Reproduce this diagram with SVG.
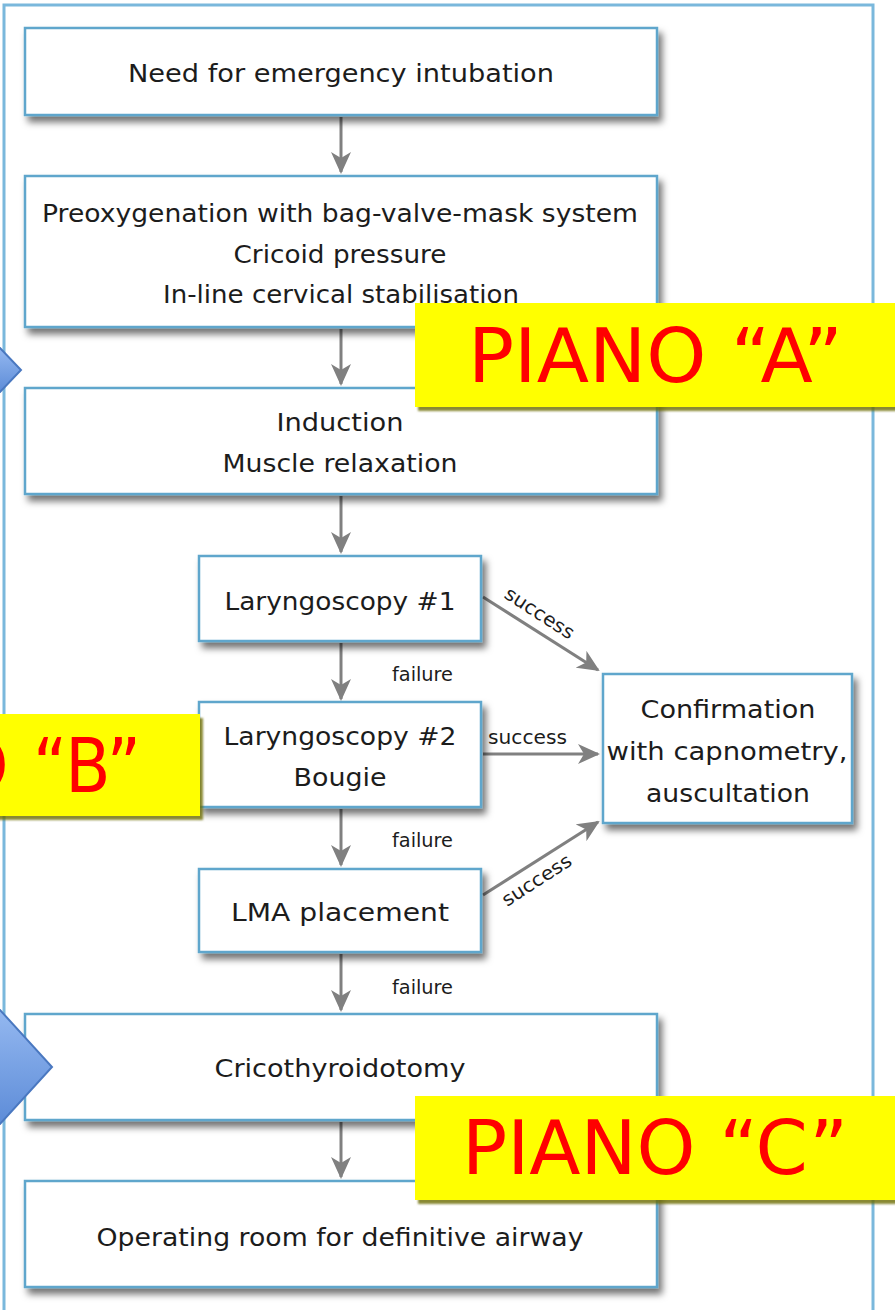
<svg xmlns="http://www.w3.org/2000/svg" width="895" height="1310" viewBox="0 0 895 1310">
<style>
.box{fill:#ffffff;stroke:#5fa6cc;stroke-width:2.5;filter:url(#sh)}
.t{font-family:"DejaVu Sans","Liberation Sans",sans-serif;font-size:25px;fill:#1c1c1c;text-anchor:middle}
.s{font-family:"DejaVu Sans","Liberation Sans",sans-serif;font-size:19px;fill:#1c1c1c}
.c{stroke:#808080;stroke-width:3;fill:none;marker-end:url(#ah)}
.lab{fill:#ffff00;filter:url(#ysh)}
.lt{font-family:"DejaVu Sans","Liberation Sans",sans-serif;font-size:74px;fill:#ff0000}
.chev{fill:url(#cg);stroke:#4a78c0;stroke-width:2}
</style>
<defs>
<filter id="sh" x="-10%" y="-10%" width="130%" height="140%">
<feDropShadow dx="4" dy="6" stdDeviation="3.5" flood-color="#000" flood-opacity="0.55"/>
</filter>
<filter id="ysh" x="-5%" y="-5%" width="115%" height="120%">
<feDropShadow dx="3" dy="4" stdDeviation="0.8" flood-color="#6b6b00" flood-opacity="0.8"/>
</filter>
<linearGradient id="cg" x1="0" y1="0" x2="0" y2="1">
<stop offset="0" stop-color="#94b8f0"/>
<stop offset="1" stop-color="#5d8cd8"/>
</linearGradient>
<marker id="ah" viewBox="0 0 22 20" refX="20" refY="10" markerWidth="22" markerHeight="20" markerUnits="userSpaceOnUse" orient="auto">
<path d="M0,0 L22,10 L0,20 L6,10 z" fill="#808080"/>
</marker>
</defs>
<rect x="4" y="5" width="869" height="1330" fill="#ffffff" stroke="#7ab8dc" stroke-width="3"/>
<g id="connectors">
<line class="c" x1="341" y1="117" x2="341" y2="172"/>
<line class="c" x1="341" y1="329" x2="341" y2="384"/>
<line class="c" x1="341" y1="496" x2="341" y2="552"/>
<line class="c" x1="341" y1="643" x2="341" y2="699"/>
<line class="c" x1="341" y1="809" x2="341" y2="865"/>
<line class="c" x1="341" y1="954" x2="341" y2="1010"/>
<line class="c" x1="341" y1="1122" x2="341" y2="1177"/>
<line class="c" x1="483" y1="597" x2="598" y2="670"/>
<line class="c" x1="483" y1="754" x2="598" y2="754"/>
<line class="c" x1="483" y1="895" x2="598" y2="822"/>
<text class="s" x="392" y="681" textLength="61" lengthAdjust="spacingAndGlyphs">failure</text>
<text class="s" x="392" y="847" textLength="61" lengthAdjust="spacingAndGlyphs">failure</text>
<text class="s" x="392" y="994" textLength="61" lengthAdjust="spacingAndGlyphs">failure</text>
<text class="s" x="488" y="744" textLength="79" lengthAdjust="spacingAndGlyphs">success</text>
<text class="s" transform="translate(503,597) rotate(33)" textLength="79" lengthAdjust="spacingAndGlyphs">success</text>
<text class="s" transform="translate(507,907) rotate(-33)" textLength="79" lengthAdjust="spacingAndGlyphs">success</text>
</g>
<g id="n1"><rect class="box" x="25" y="28" width="632" height="87"/>
<text class="t" x="341" y="82" textLength="426" lengthAdjust="spacingAndGlyphs">Need for emergency intubation</text></g>
<g id="n2"><rect class="box" x="25" y="176" width="632" height="151"/>
<text class="t" x="340" y="222" textLength="596" lengthAdjust="spacingAndGlyphs">Preoxygenation with bag-valve-mask system</text>
<text class="t" x="340" y="263" textLength="213" lengthAdjust="spacingAndGlyphs">Cricoid pressure</text>
<text class="t" x="341" y="303" textLength="356" lengthAdjust="spacingAndGlyphs">In-line cervical stabilisation</text></g>
<g id="n3"><rect class="box" x="25" y="388" width="632" height="106"/>
<text class="t" x="340" y="431" textLength="127" lengthAdjust="spacingAndGlyphs">Induction</text>
<text class="t" x="340" y="472" textLength="235" lengthAdjust="spacingAndGlyphs">Muscle relaxation</text></g>
<g id="n4"><rect class="box" x="199" y="556" width="282" height="85"/>
<text class="t" x="340" y="610" textLength="231" lengthAdjust="spacingAndGlyphs">Laryngoscopy #1</text></g>
<g id="n5"><rect class="box" x="199" y="702" width="282" height="105"/>
<text class="t" x="340" y="745" textLength="233" lengthAdjust="spacingAndGlyphs">Laryngoscopy #2</text>
<text class="t" x="340" y="786" textLength="93" lengthAdjust="spacingAndGlyphs">Bougie</text></g>
<g id="n6"><rect class="box" x="199" y="869" width="282" height="83"/>
<text class="t" x="340" y="921" textLength="218" lengthAdjust="spacingAndGlyphs">LMA placement</text></g>
<g id="n7"><rect class="box" x="603" y="674" width="249" height="149"/>
<text class="t" x="728" y="718" textLength="175" lengthAdjust="spacingAndGlyphs">Confirmation</text>
<text class="t" x="727" y="760" textLength="241" lengthAdjust="spacingAndGlyphs">with capnometry,</text>
<text class="t" x="728" y="802" textLength="164" lengthAdjust="spacingAndGlyphs">auscultation</text></g>
<g id="n8"><rect class="box" x="25" y="1014" width="632" height="106"/>
<text class="t" x="340" y="1077" textLength="251" lengthAdjust="spacingAndGlyphs">Cricothyroidotomy</text></g>
<g id="n9"><rect class="box" x="25" y="1181" width="632" height="106"/>
<text class="t" x="340" y="1246" textLength="487" lengthAdjust="spacingAndGlyphs">Operating room for definitive airway</text></g>
<g id="chevrons">
<polygon class="chev" points="-60,348 0,348 21,370 0,392 -60,392"/>
<polygon class="chev" points="-60,1010 0,1010 52,1067 0,1124 -60,1124"/>
</g>
<g id="labelA"><rect class="lab" x="415" y="303" width="500" height="104"/>
<text class="lt" x="468" y="382" textLength="375" lengthAdjust="spacingAndGlyphs">PIANO “A”</text></g>
<g id="labelB"><rect class="lab" x="-300" y="714" width="500" height="102"/>
<text class="lt" x="9" y="792" text-anchor="end" textLength="240" lengthAdjust="spacingAndGlyphs">PIANO</text>
<text class="lt" x="33" y="792" textLength="108" lengthAdjust="spacingAndGlyphs">“B”</text></g>
<g id="labelC"><rect class="lab" x="415" y="1096" width="500" height="104"/>
<text class="lt" x="462" y="1174" textLength="386" lengthAdjust="spacingAndGlyphs">PIANO “C”</text></g>
</svg>
